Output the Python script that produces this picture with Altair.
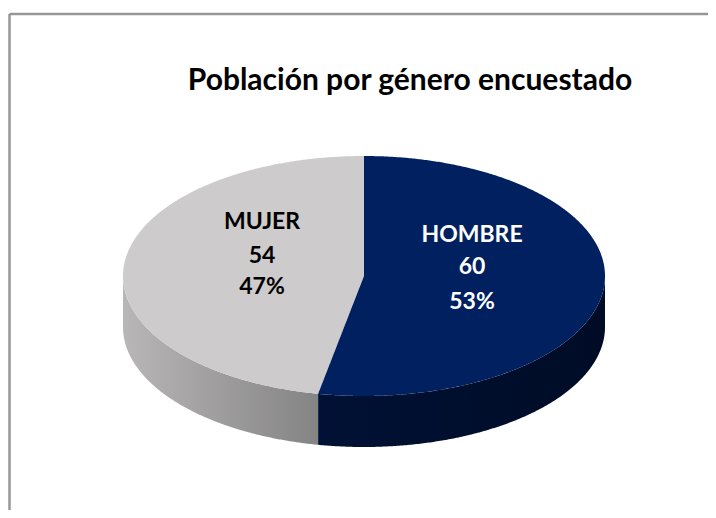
import math
import altair as alt
import pandas as pd

# Chart content
title_text = "Población por género encuestado"
categories = ["HOMBRE", "MUJER"]
values = [60, 54]
percents = ["53%", "47%"]
top_colors = ["#00205f", "#cdcbcc"]
label_colors = ["#ffffff", "#000000"]
label_x = [472, 262]
label_y = [[235, 267, 302], [222, 256, 287]]

# Tilted-disc geometry (image pixels)
CX, CY, RX, RY, DEPTH = 364, 276, 241, 120, 51
# The slice border sits a little further round than 60/114 in this perspective
CUT_DEG = 360 * values[0] / sum(values) + 1.5
FONT = "Lato"

x_scale = alt.Scale(domain=[8, 708], nice=False, zero=False)
y_scale = alt.Scale(domain=[510, 8], nice=False, zero=False)
X = lambda f="x": alt.X(f"{f}:Q", scale=x_scale, axis=None, sort=None)
Y = lambda f="y": alt.Y(f"{f}:Q", scale=y_scale, axis=None)
Y2 = alt.Y2("y2:Q")

lower = lambda x: CY + RY * math.sqrt(max(0, 1 - ((x - CX) / RX) ** 2))
upper = lambda x: CY - RY * math.sqrt(max(0, 1 - ((x - CX) / RX) ** 2))
x_cut = CX + RX * math.sin(math.radians(CUT_DEG))
y_cut = lower(x_cut)
on_line = lambda x: CY + (y_cut - CY) * (x - CX) / (x_cut - CX)


def sweep(x0, x1, n=240):
    # samples denser near the extremes of the ellipse
    t0 = math.acos(max(-1, min(1, (x0 - CX) / RX)))
    t1 = math.acos(max(-1, min(1, (x1 - CX) / RX)))
    return [CX + RX * math.cos(t0 + (t1 - t0) * i / n) for i in range(n + 1)]


x_left, x_right = CX - RX, CX + RX

hombre_top = (
    [{"x": x, "y": on_line(x), "y2": lower(x)} for x in sweep(x_cut, CX, 60)]
    + [{"x": x, "y": upper(x), "y2": lower(x)} for x in sweep(CX, x_right)]
)
mujer_top = (
    [{"x": x, "y": upper(x), "y2": lower(x)} for x in sweep(x_left, x_cut)]
    + [{"x": x, "y": upper(x), "y2": on_line(x)} for x in sweep(x_cut, CX, 60)]
)
mujer_side = [{"x": x, "y": lower(x), "y2": lower(x) + DEPTH} for x in sweep(x_left, x_cut)]
hombre_side = [{"x": x, "y": lower(x), "y2": lower(x) + DEPTH} for x in sweep(x_cut, x_right)]


def area(rows, fill):
    return (
        alt.Chart(pd.DataFrame(rows))
        .mark_area(color=fill, interpolate="linear")
        .encode(x=X(), y=Y(), y2=Y2)
    )


grad_mujer = alt.Gradient(
    gradient="linear", x1=0, x2=1, y1=0, y2=0,
    stops=[alt.GradientStop(color="#b8b6b7", offset=0), alt.GradientStop(color="#858484", offset=1)],
)
grad_hombre = alt.Gradient(
    gradient="linear", x1=0, x2=1, y1=0, y2=0,
    stops=[alt.GradientStop(color="#001135", offset=0), alt.GradientStop(color="#000c26", offset=1)],
)

layers = [
    alt.Chart(pd.DataFrame({"x": [9.5], "y": [14], "y2": [510]}))
    .mark_rule(color="#969696", strokeWidth=2.5)
    .encode(x=X(), y=Y(), y2=Y2),
    alt.Chart(pd.DataFrame({"x": [9.5], "x2": [708], "y": [14]}))
    .mark_rule(color="#969696", strokeWidth=2.5)
    .encode(x=X(), x2=alt.X2("x2:Q"), y=Y()),
    area(mujer_side, grad_mujer),
    area(hombre_side, grad_hombre),
    area(mujer_top, top_colors[1]),
    area(hombre_top, top_colors[0]),
]

text_rows = []
for i, cat in enumerate(categories):
    for line, yy in zip([cat, str(values[i]), percents[i]], label_y[i]):
        text_rows.append({"x": label_x[i], "y": yy, "t": line, "c": label_colors[i]})

layers.append(
    alt.Chart(pd.DataFrame(text_rows))
    .mark_text(font=FONT, fontWeight="bold", fontSize=23, align="center", baseline="middle")
    .encode(x=X(), y=Y(), text="t:N", color=alt.Color("c:N", scale=None))
)
layers.append(
    alt.Chart(pd.DataFrame({"x": [410], "y": [81], "t": [title_text]}))
    .mark_text(font=FONT, fontWeight="bold", fontSize=30, align="center", baseline="middle", color="#000000")
    .encode(x=X(), y=Y(), text="t:N")
)

chart = (
    alt.layer(*layers)
    .properties(
        width=700, height=502, padding=0, background="#ffffff",
        autosize=alt.AutoSizeParams(type="none"),
    )
    .configure_view(stroke=None)
)
chart.save("out.html", embed_options={"renderer": "svg", "actions": False})
